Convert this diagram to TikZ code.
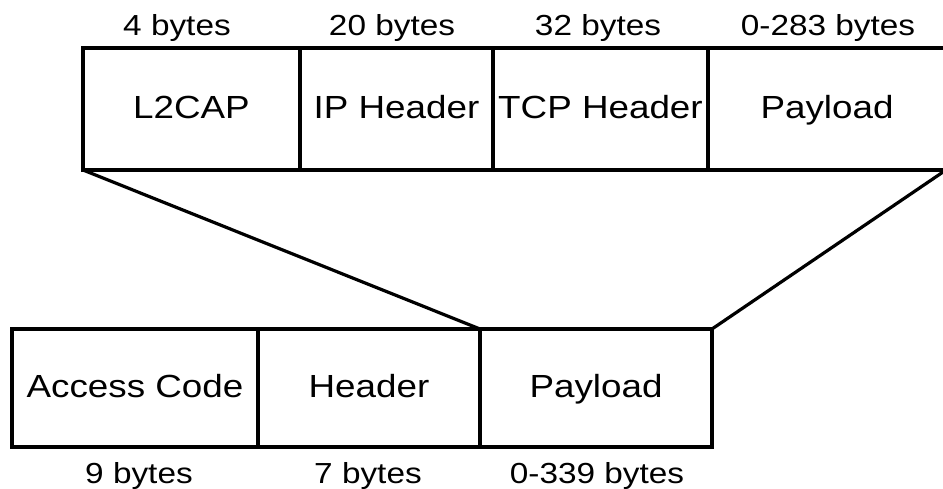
\documentclass[tikz,border=0pt]{standalone}
\usepackage{fontspec}
\setmainfont{Liberation Sans}[FakeStretch=1.15]
\begin{document}
\begin{tikzpicture}[x=1pt,y=-1pt,
  cell/.style={draw, line width=3.2pt, rectangle, inner sep=0pt, outer sep=0pt,
    minimum height=122pt, text height=24pt, text depth=5pt,
    font=\fontsize{32}{36}\selectfont},
  size/.style={anchor=base, inner sep=0pt, font=\fontsize{29}{33}\selectfont},
  link/.style={line width=3.2pt, line cap=round}]
\useasboundingbox (0,0) rectangle (943,489);
% upper frame: L2CAP packet
\node[cell, minimum width=217pt] (l2cap) at (191.5,109) {L2CAP};
\node[cell, minimum width=193pt] (ip)    at (396.5,109) {IP Header};
\node[cell, minimum width=215pt] (tcp)   at (600.5,109) {TCP Header};
\node[cell, minimum width=238pt] (tpay)  at (827,109)   {Payload};
% sizes above the upper frame
\node[size] (s1) at (177,36) {4 bytes};
\node[size] (s2) at (392,36) {20 bytes};
\node[size] (s3) at (598,36) {32 bytes};
\node[size] (s4) at (828,36) {0-283 bytes};
% lower frame: baseband packet
\node[cell, minimum width=246pt, minimum height=118pt] (acc)  at (135,388) {Access Code};
\node[cell, minimum width=222pt, minimum height=118pt] (hdr)  at (369,388) {Header};
\node[cell, minimum width=232pt, minimum height=118pt] (bpay) at (596,388) {Payload};
% sizes below the lower frame
\node[size] (b1) at (139,483) {9 bytes};
\node[size] (b2) at (368,483) {7 bytes};
\node[size] (b3) at (597,483) {0-339 bytes};
% the upper packet fits into the lower payload
\draw[link] (l2cap.south west) -- (bpay.north west);
\draw[link] (tpay.south east) -- (bpay.north east);
\end{tikzpicture}
\end{document}
